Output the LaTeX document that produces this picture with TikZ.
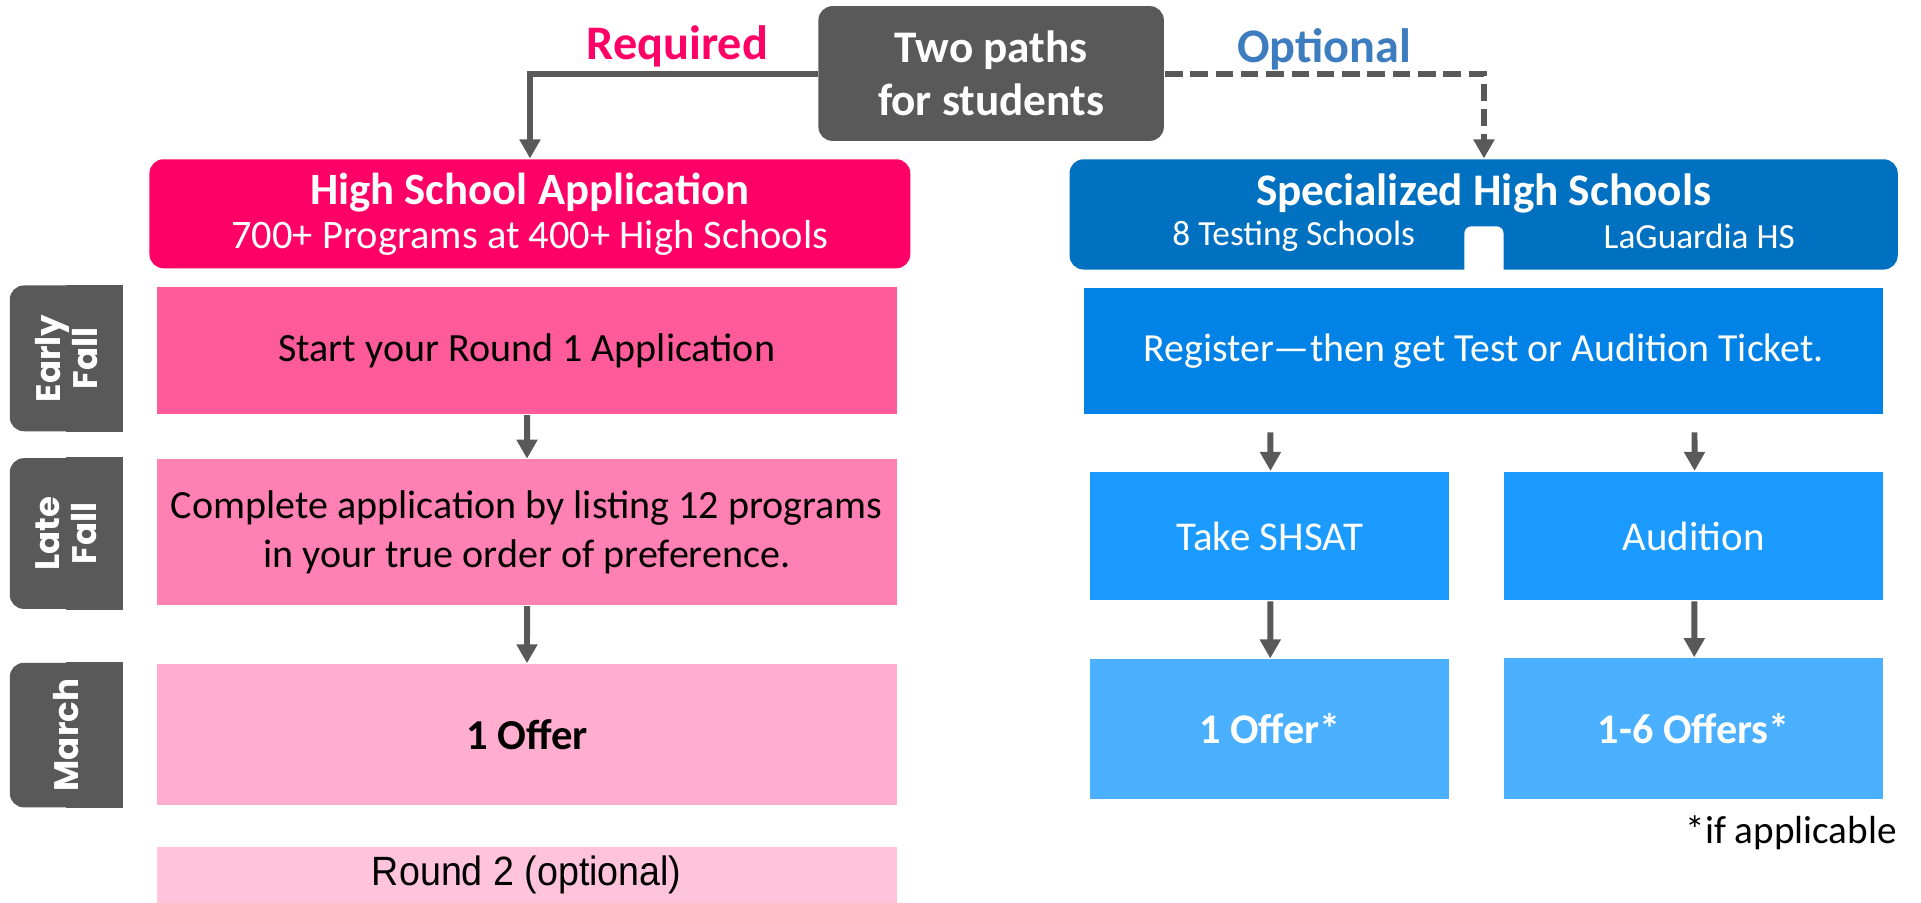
\documentclass[tikz,border=0pt]{standalone}
\usepackage{fontspec}
\setmainfont{Carlito}
\newfontfamily\tagfont{Poppins}
\newfontfamily\narrowfont{Liberation Sans}[FakeStretch=0.92]
\definecolor{slate}{RGB}{89, 89, 89}
\definecolor{reqpink}{RGB}{255, 0, 102}
\definecolor{optblue}{RGB}{62, 124, 192}
\definecolor{shsblue}{RGB}{0, 112, 192}
\definecolor{pinkA}{RGB}{255, 90, 153}
\definecolor{pinkB}{RGB}{255, 128, 178}
\definecolor{pinkC}{RGB}{255, 174, 208}
\definecolor{pinkD}{RGB}{255, 196, 220}
\definecolor{blueA}{RGB}{0, 130, 230}
\definecolor{blueB}{RGB}{27, 155, 255}
\definecolor{blueC}{RGB}{74, 176, 255}
\usetikzlibrary{arrows.meta, positioning, calc, backgrounds}

\begin{document}
\begin{tikzpicture}[scale=1.225, transform shape,
  flow/.style={draw=slate, line width=1.7pt, -{Triangle[width=5.7pt, length=5.4pt]}},
  headbox/.style={rounded corners=4pt, text=white, align=center, inner sep=0pt},
  pinkstep/.style={text=black, align=center, inner sep=0pt, minimum width=6.04cm, font=\fontsize{9.3}{11.4}\selectfont},
  bluestep/.style={text=white, align=center, inner sep=0pt, font=\fontsize{9.5}{11}\selectfont},
  timetag/.style={fill=slate, rounded corners=4pt, rotate=90, text=white, align=center, inner sep=0pt, minimum height=0.92cm, font=\tagfont\bfseries\fontsize{7.9}{8.6}\selectfont}]
  \useasboundingbox (0, 0) rectangle (15.68, -7.37);

  % top of the chart
  \node[headbox, fill=slate, minimum width=2.82cm, minimum height=1.10cm, font=\bfseries\fontsize{10.5}{12.2}\selectfont] (twopaths) at (8.09, -0.60) {Two paths\\for students};
  \node[text=reqpink, font=\bfseries\fontsize{11.2}{13}\selectfont] (required) at (5.53, -0.38) {Required};
  \node[text=optblue, font=\bfseries\fontsize{11.2}{13}\selectfont] (optional) at (10.81, -0.40) {Optional};

  \node[headbox, fill=reqpink, minimum width=6.21cm, minimum height=0.89cm, font=\fontsize{9.4}{10.2}\selectfont] (hsapp) at (4.325, -1.745) {{\bfseries\fontsize{10.4}{11}\selectfont High School Application}\\700+ Programs at 400+ High Schools};
  \node[headbox, fill=shsblue, minimum width=6.76cm, minimum height=0.90cm] (shs) at (12.11, -1.75) {};
  \fill[white, rounded corners=2pt] ($(shs.south)+(-0.16, 0.36)$) rectangle ($(shs.south)+(0.16, -0.06)$);
  \node[text=white, font=\bfseries\fontsize{10.5}{12}\selectfont] (shstitle) at (12.11, -1.58) {Specialized High Schools};
  \node[text=white, font=\fontsize{8.2}{10}\selectfont] (testing) at (10.56, -1.93) {8 Testing Schools};
  \node[text=white, font=\fontsize{8.2}{10}\selectfont] (laguardia) at (13.87, -1.93) {LaGuardia HS};

  \draw[flow] (twopaths.west) -| (hsapp.north);
  \draw[flow, dash pattern=on 5pt off 2.2pt] (twopaths.east) -| (shs.north);

  % time of year
  \node[timetag, minimum width=1.19cm] (earlyfall) at (0.54, -2.925) {Early\\Fall};
  \node[timetag, minimum width=1.23cm] (latefall) at (0.54, -4.355) {Late\\Fall};
  \node[timetag, minimum width=1.18cm] (march) at (0.54, -6.00) {March};
  \begin{pgfonlayer}{background}
    \foreach \tag in {earlyfall, latefall, march}
      \fill[slate] (\tag.east) rectangle (\tag.south west);
  \end{pgfonlayer}

  % required path
  \node[pinkstep, fill=pinkA, minimum height=1.04cm] (start) at (4.30, -2.86) {Start your Round 1 Application};
  \node[pinkstep, fill=pinkB, minimum height=1.19cm] (complete) at (4.30, -4.345) {Complete application by listing 12 programs\\in your true order of preference.};
  \node[pinkstep, fill=pinkC, minimum height=1.15cm, font=\bfseries\fontsize{9.9}{11}\selectfont] (offer) at (4.30, -5.995) {1 Offer};
  \node[pinkstep, fill=pinkD, minimum height=0.46cm, font=\narrowfont\fontsize{9.5}{10}\selectfont] (roundtwo) at (4.30, -7.14) {Round 2 (optional)};
  \draw[flow] (start) -- (complete);
  \draw[flow] (complete) -- (offer);

  % optional path
  \node[bluestep, fill=blueA, minimum width=6.52cm, minimum height=1.03cm, font=\fontsize{9.25}{11}\selectfont] (register) at (12.11, -2.865) {Register---then get Test or Audition Ticket.};
  \node[bluestep, fill=blueB, minimum width=2.93cm, minimum height=1.05cm] (shsat) at (10.365, -4.375) {Take SHSAT};
  \node[bluestep, fill=blueB, minimum width=3.09cm, minimum height=1.05cm] (audition) at (13.825, -4.375) {Audition};
  \node[bluestep, fill=blueC, minimum width=2.93cm, minimum height=1.14cm, font=\bfseries\fontsize{9.8}{11}\selectfont] (oneoffer) at (10.365, -5.95) {1 Offer*};
  \node[bluestep, fill=blueC, minimum width=3.09cm, minimum height=1.15cm, font=\bfseries\fontsize{9.8}{11}\selectfont] (sixoffers) at (13.825, -5.945) {1-6 Offers*};
  \path (register.south -| shsat.north) ++(0, -0.14) coordinate (satin);
  \path (register.south -| audition.north) ++(0, -0.14) coordinate (audin);
  \draw[flow] (satin) -- (shsat);
  \draw[flow] (audin) -- (audition);
  \draw[flow] (shsat) -- (oneoffer);
  \draw[flow] (audition) -- (sixoffers);

  \node[anchor=east, inner sep=0pt, font=\fontsize{9.1}{10}\selectfont] (ifapp) at (15.49, -6.80) {*if applicable};
\end{tikzpicture}
\end{document}
